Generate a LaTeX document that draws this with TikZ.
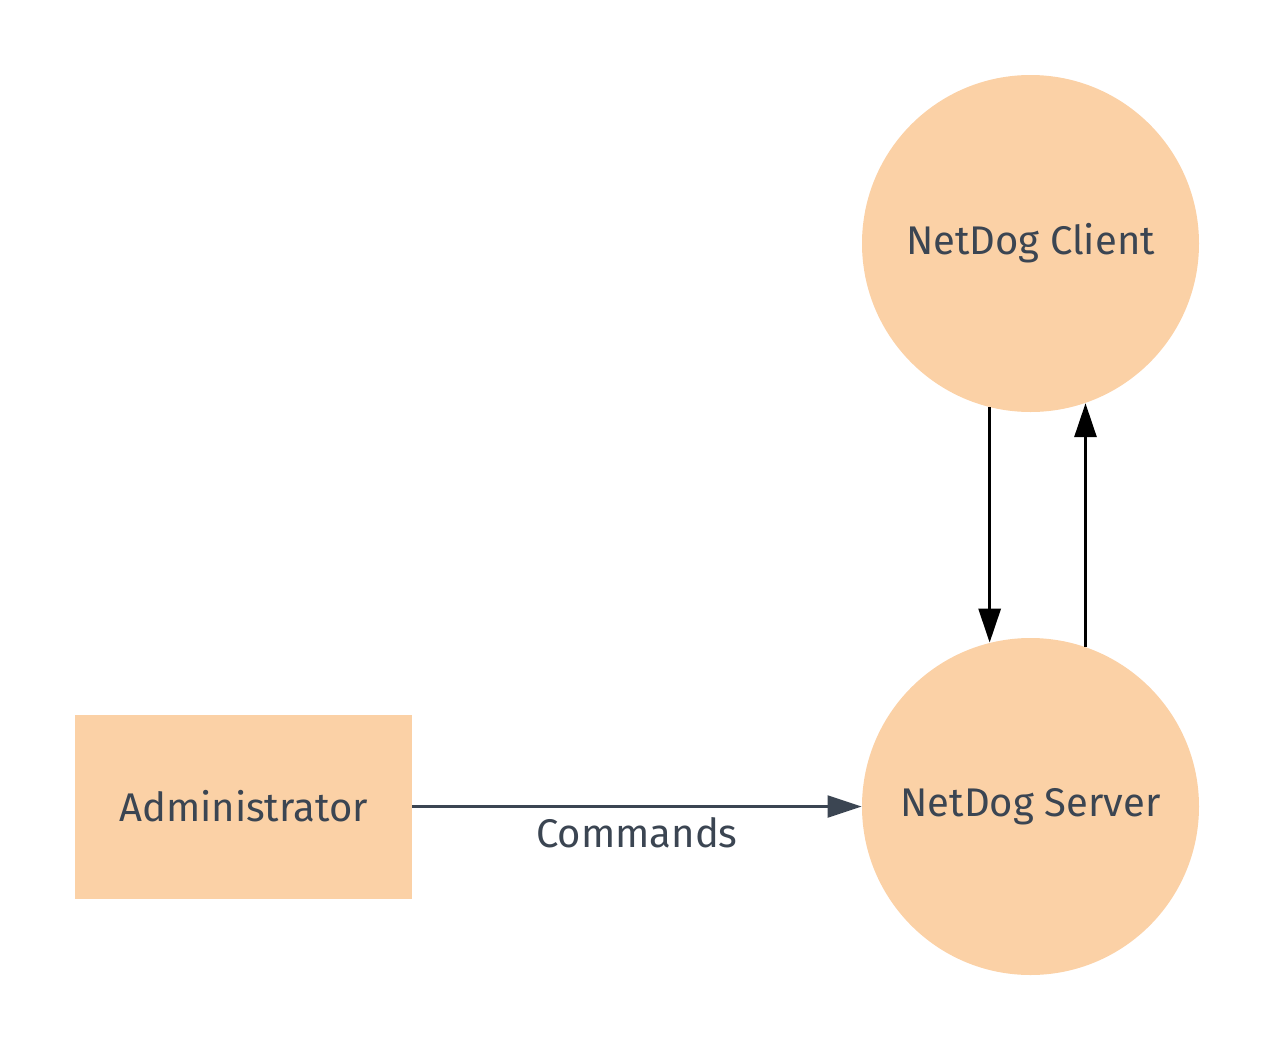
\documentclass[tikz,border=0pt]{standalone}
\usepackage{fontspec}
\setmainfont{Fira Sans}
\usetikzlibrary{arrows.meta}

\definecolor{peach}{HTML}{FBD1A6}
\definecolor{ink}{HTML}{3B4552}

\tikzset{
    proc/.style={circle, fill=peach, minimum size=168.5pt, inner sep=0pt,
        text=ink, font=\fontsize{20}{24}\selectfont},
    entity/.style={rectangle, fill=peach, minimum width=168.5pt,
        minimum height=92pt, inner sep=0pt, text=ink,
        font=\fontsize{20}{24}\selectfont},
    flow/.style={line width=1.5pt, -{Triangle[length=17pt, width=11pt]}},
    cmdflow/.style={ink, line width=1.1pt, -{Triangle[length=17pt, width=11pt]}}
}

\begin{document}
\begin{tikzpicture}[x=0.5pt, y=-0.5pt]
    \useasboundingbox (0, 0) rectangle (1275, 1050);

    % processes
    \node[proc] (client) at (1030.5, 243.5) {NetDog Client};
    \node[proc] (server) at (1030.5, 806.5) {NetDog Server};
    % external entity
    \node[entity] (admin) at (243.5, 806.5) {Administrator};

    % flows
    \draw[flow] (client.-104.5) -- (server.104.5);
    \draw[flow] (server.71.1) -- (client.-71.1);
    \draw[cmdflow] (admin.east) -- (server.west)
        node[midway, below=1.5pt, text=ink, font=\fontsize{20}{24}\selectfont] {Commands};
\end{tikzpicture}
\end{document}
